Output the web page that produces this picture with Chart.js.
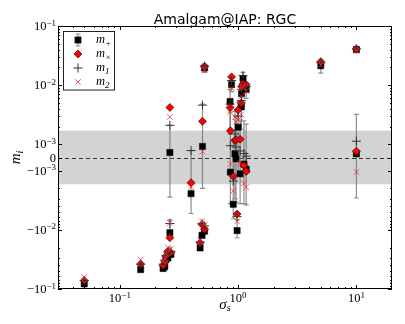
<!DOCTYPE html>
<html>
<head>
<meta charset="utf-8">
<script src="https://cdn.jsdelivr.net/npm/chart.js@4/dist/chart.umd.min.js"></script>
<style>
html, body { margin: 0; padding: 0; background: #fff; }
</style>
</head>
<body>
<canvas id="mychart" width="405" height="324"></canvas>
<script>
// sigma_s of each measurement
var sigma = [0.05, 0.15, 0.265, 0.265, 0.27, 0.255, 0.245, 0.24, 0.232, 0.40, 0.50, 0.52, 0.52, 0.495, 0.477,
   0.855, 0.86, 0.88, 0.91, 0.94, 0.96, 0.98, 1.0, 1.04, 1.10, 1.07, 1.065, 1.12, 1.17, 1.17, 5.0, 10.0, 10.0];
var mPlus = [-0.082, -0.047, 0.00038, -0.0112, -0.026, -0.030, -0.032, -0.042, -0.045, -0.00245, 0.00084, 0.0195, -0.0105, -0.0124, -0.0202,
   0.0053, -0.00106, 0.0102, -0.0037, 0.00028, -0.0001, -0.0103, 0.00195, -0.00113, 0.013, 0.0072, 0.0043, -0.0005, -0.0009, 0.0085, 0.0213, 0.040, 0.00028];
var mCross = [-0.072, -0.038, 0.0042, -0.0136, -0.0243, -0.023, -0.028, -0.035, -0.040, -0.0016, 0.00245, 0.0205, -0.0098, -0.0081, -0.0166,
   0.0042, 0.0017, 0.0138, -0.00125, 0.00116, 0.0012, -0.0054, 0.0038, 0.00122, 0.0105, 0.0095, 0.0050, -0.00061, -0.00103, 0.0102, 0.025, 0.041, 0.00048];
var mOne = [-0.072, -0.038, 0.0021, -0.0078, -0.023, -0.024, -0.027, -0.033, -0.038, 0.00053, 0.0046, 0.021, -0.0086, -0.0078, -0.016,
   0.0048, 0.0009, 0.012, -0.0015, 0.0015, 0.0008, -0.006, 0.003, 0.0005, 0.0145, 0.0085, 0.0055, 0.0003, 0.0001, 0.0095, 0.024, 0.041, 0.00113];
var mTwo = [-0.063, -0.032, 0.0029, -0.0076, -0.021, -0.020, -0.025, -0.030, -0.034, -0.0019, 0.00046, 0.018, -0.008, -0.0072, -0.015,
   0.0035, -0.0005, 0.009, -0.0022, 0.0029, 0.0024, -0.0072, 0.0026, -0.0004, 0.0095, 0.0065, 0.0032, -0.00163, -0.0019, 0.008, 0.022, 0.038, -0.00106];
// error bar ends on m+
var errLow = [-0.088, -0.051, -0.0028, -0.0125, -0.029, -0.033, -0.035, -0.046, -0.049, -0.0053, -0.002, 0.0165, -0.0118, -0.014, -0.0225,
   0.0015, -0.0036, 0.0078, -0.0065, -0.0030, -0.0034, -0.0136, -0.0012, -0.0036, 0.0098, 0.0048, 0.0018, -0.0036, -0.0038, 0.006, 0.016, 0.037, -0.0029];
var errHigh = [-0.077, -0.043, 0.0021, -0.0068, -0.023, -0.027, -0.029, -0.038, -0.041, 0.00053, 0.0048, 0.023, -0.0093, -0.011, -0.018,
   0.0085, 0.0035, 0.0132, 0.0012, 0.0036, 0.003, -0.0068, 0.0052, 0.0026, 0.0165, 0.0098, 0.0068, 0.0025, 0.0022, 0.011, 0.026, 0.044, 0.0032];

var xTicks = [0.1, 1, 10];
var yTicks = [-0.1, -0.01, -0.001, 0, 0.001, 0.01, 0.1];
var legendSubs = ["+", "×", "1", "2"];
var titleText = "Amalgam@IAP: RGC";
var bandLimit = 0.0017;

// symmetric log scale (linear between -linthresh and linthresh)
var LINTHRESH = 1e-3, LINSCALE = 0.2222;
function symlog(v) {
   var a = Math.abs(v);
   if (a <= LINTHRESH) return v / LINTHRESH * LINSCALE;
   return Math.sign(v) * (LINSCALE + Math.log10(a / LINTHRESH));
}
function symexp(t) {
   var a = Math.abs(t);
   if (a <= LINSCALE) return t / LINSCALE * LINTHRESH;
   return Math.sign(t) * LINTHRESH * Math.pow(10, a - LINSCALE);
}

class SymlogScale extends Chart.LinearScale {
   static id = "symlog";
   static defaults = {};
   buildTicks() {
      return yTicks.map(function (v) { return { value: v }; });
   }
   configure() {
      super.configure();
      this._t0 = symlog(this.min);
      this._t1 = symlog(this.max);
   }
   getPixelForValue(v) {
      return this.getPixelForDecimal((symlog(v) - this._t0) / (this._t1 - this._t0));
   }
   getValueForPixel(p) {
      return symexp(this._t0 + this.getDecimalForPixel(p) * (this._t1 - this._t0));
   }
}
Chart.register(SymlogScale);

var MATH = '"Liberation Serif", "DejaVu Serif", serif';

function drawRuns(ctx, parts, x, y, align) {
   var w = 0;
   parts.forEach(function (p) { ctx.font = p.font; p.w = ctx.measureText(p.text).width; w += p.w; });
   var cx = align === "right" ? x - w : align === "center" ? x - w / 2 : x;
   parts.forEach(function (p) { ctx.font = p.font; ctx.fillText(p.text, cx, y + (p.dy || 0)); cx += p.w; });
}

function tickParts(v) {
   if (v === 0) return [{ text: "0", font: "12.5px " + MATH }];
   var e = Math.round(Math.log10(Math.abs(v)));
   return [
      { text: (v < 0 ? "\u2212" : "") + "10", font: "12.5px " + MATH },
      { text: (e < 0 ? "\u2212" : "") + Math.abs(e), font: "9px " + MATH, dy: -4.5 },
   ];
}

var backPlugin = {
   id: "back",
   beforeDatasetsDraw: function (chart) {
      var ctx = chart.ctx, a = chart.chartArea;
      var xs = chart.scales.x, ys = chart.scales.y;
      ctx.save();
      ctx.beginPath();
      ctx.rect(a.left, a.top, a.right - a.left, a.bottom - a.top);
      ctx.clip();
      // tolerance band
      var b0 = ys.getPixelForValue(bandLimit), b1 = ys.getPixelForValue(-bandLimit);
      ctx.fillStyle = "#d3d3d3";
      ctx.fillRect(a.left, b0, a.right - a.left, b1 - b0);
      // zero line
      var z = Math.round(ys.getPixelForValue(0)) + 0.5;
      ctx.strokeStyle = "#333";
      ctx.lineWidth = 1;
      ctx.setLineDash([4, 3]);
      ctx.beginPath();
      ctx.moveTo(a.left, z);
      ctx.lineTo(a.right, z);
      ctx.stroke();
      ctx.setLineDash([]);
      // error bars
      ctx.strokeStyle = "rgba(105,105,105,0.75)";
      ctx.lineWidth = 1.2;
      sigma.forEach(function (s, i) {
         var x = xs.getPixelForValue(s);
         var y0 = ys.getPixelForValue(errLow[i]), y1 = ys.getPixelForValue(errHigh[i]);
         ctx.beginPath();
         ctx.moveTo(x, y0); ctx.lineTo(x, y1);
         ctx.moveTo(x - 2.5, y0); ctx.lineTo(x + 2.5, y0);
         ctx.moveTo(x - 2.5, y1); ctx.lineTo(x + 2.5, y1);
         ctx.stroke();
      });
      ctx.restore();
   },
};

var frontPlugin = {
   id: "front",
   afterDraw: function (chart) {
      var ctx = chart.ctx, a = chart.chartArea;
      var xs = chart.scales.x, ys = chart.scales.y;
      ctx.save();
      // frame
      ctx.strokeStyle = "#000";
      ctx.lineWidth = 1;
      ctx.strokeRect(a.left + 0.5, a.top + 0.5, a.right - a.left - 1, a.bottom - a.top - 1);

      // ticks, inward on all sides
      function xTick(v, len) {
         var x = Math.round(xs.getPixelForValue(v)) + 0.5;
         ctx.moveTo(x, a.bottom); ctx.lineTo(x, a.bottom - len);
         ctx.moveTo(x, a.top); ctx.lineTo(x, a.top + len);
      }
      function yTick(v, len) {
         var y = Math.round(ys.getPixelForValue(v)) + 0.5;
         ctx.moveTo(a.left, y); ctx.lineTo(a.left + len, y);
         ctx.moveTo(a.right, y); ctx.lineTo(a.right - len, y);
      }
      ctx.beginPath();
      xTicks.forEach(function (v) { xTick(v, 4); });
      yTicks.forEach(function (v) { yTick(v, 4); });
      for (var n = -2; n <= 1; n++) {
         for (var k = 2; k <= 9; k++) {
            var v = k * Math.pow(10, n);
            if (v > xs.min && v < xs.max) xTick(v, 2);
         }
      }
      for (var m = -3; m <= -2; m++) {
         for (var j = 2; j <= 9; j++) {
            yTick(j * Math.pow(10, m), 2);
            yTick(-j * Math.pow(10, m), 2);
         }
      }
      ctx.stroke();

      // tick labels
      ctx.fillStyle = "#000";
      ctx.textAlign = "left";
      ctx.textBaseline = "alphabetic";
      yTicks.forEach(function (v) {
         drawRuns(ctx, tickParts(v), a.left - 2, ys.getPixelForValue(v) + 4, "right");
      });
      xTicks.forEach(function (v) {
         drawRuns(ctx, tickParts(v), xs.getPixelForValue(v), 302, "center");
      });

      // axis titles
      var cx = (a.left + a.right) / 2;
      drawRuns(ctx, [
         { text: "\u03c3", font: "italic 15px " + MATH },
         { text: "s", font: "italic 10px " + MATH, dy: 2.5 },
      ], cx, 308.5, "center");
      ctx.save();
      ctx.translate(20, (a.top + a.bottom) / 2);
      ctx.rotate(-Math.PI / 2);
      drawRuns(ctx, [
         { text: "m", font: "italic 15px " + MATH },
         { text: "i", font: "italic 10px " + MATH, dy: 2.5 },
      ], 0, 0, "center");
      ctx.restore();

      // title
      ctx.font = '14px "DejaVu Sans", sans-serif';
      ctx.textAlign = "center";
      ctx.fillText(titleText, cx, 23.5);
      ctx.textAlign = "left";

      // legend
      ctx.fillStyle = "#fff";
      ctx.fillRect(63.5, 31.5, 51, 58.5);
      ctx.strokeStyle = "#222";
      ctx.lineWidth = 1;
      ctx.strokeRect(63.5, 31.5, 51, 58.5);
      chart.data.datasets.forEach(function (ds, i) {
         var ly = 40 + i * 14, lx = 78;
         if (i === 0) {
            ctx.strokeStyle = "rgba(105,105,105,0.75)";
            ctx.lineWidth = 1.2;
            ctx.beginPath();
            ctx.moveTo(lx, ly - 6); ctx.lineTo(lx, ly + 6);
            ctx.moveTo(lx - 2.5, ly - 6); ctx.lineTo(lx + 2.5, ly - 6);
            ctx.moveTo(lx - 2.5, ly + 6); ctx.lineTo(lx + 2.5, ly + 6);
            ctx.stroke();
         }
         ctx.fillStyle = ds.backgroundColor;
         ctx.strokeStyle = ds.borderColor;
         ctx.lineWidth = ds.borderWidth;
         Chart.helpers.drawPoint(ctx, { pointStyle: ds.pointStyle, radius: ds.pointRadius, rotation: 0, borderWidth: ds.borderWidth }, lx, ly);
         ctx.fillStyle = "#000";
         drawRuns(ctx, [
            { text: "m", font: "italic 12.5px " + MATH },
            { text: legendSubs[i], font: "italic 9px " + MATH, dy: 2.5 },
         ], 96, ly + 3, "left");
      });
      ctx.restore();
   },
};

function pts(vals) {
   return sigma.map(function (s, i) { return { x: s, y: vals[i] }; });
}

var chartCanvas = document.getElementById("mychart");
var sigmaChart = new Chart(chartCanvas, {
   type: "scatter",
   data: {
      datasets: [
         { label: "m+", data: pts(mPlus), pointStyle: "rect", pointRadius: 4.4, backgroundColor: "#000", borderColor: "#000", borderWidth: 0.5, order: 4 },
         { label: "m×", data: pts(mCross), pointStyle: "rectRot", pointRadius: 4, backgroundColor: "#ff0000", borderColor: "#000", borderWidth: 0.6, order: 3 },
         { label: "m1", data: pts(mOne), pointStyle: "cross", pointRadius: 4.5, backgroundColor: "rgba(0,0,0,0)", borderColor: "#333", borderWidth: 1, order: 2 },
         { label: "m2", data: pts(mTwo), pointStyle: "crossRot", pointRadius: 4, backgroundColor: "rgba(0,0,0,0)", borderColor: "rgba(255,40,40,0.75)", borderWidth: 1, order: 1 },
      ],
   },
   options: {
      responsive: false,
      animation: false,
      devicePixelRatio: 1,
      layout: { padding: { left: 58, right: 13, top: 26, bottom: 35 } },
      scales: {
         x: { type: "logarithmic", min: 0.03, max: 20, display: false },
         y: { type: "symlog", min: -0.1, max: 0.1, display: false },
      },
      plugins: {
         legend: { display: false },
         tooltip: { enabled: false },
      },
   },
   plugins: [backPlugin, frontPlugin],
});
</script>
</body>
</html>
